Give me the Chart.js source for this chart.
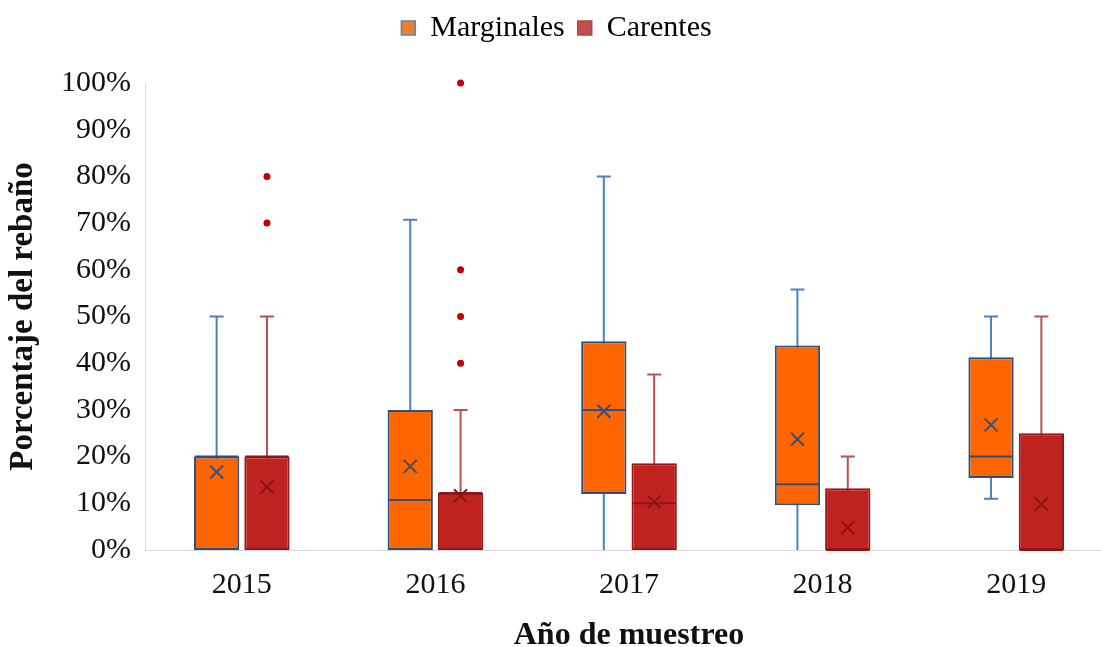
<!DOCTYPE html>
<html>
<head>
<meta charset="utf-8">
<script src="https://cdn.jsdelivr.net/npm/chart.js@4.4.1/dist/chart.umd.min.js"></script>
<style>
  html, body { margin: 0; padding: 0; background: #fff; overflow: hidden; }
  #wrap { width: 1113px; height: 647px; }
</style>
</head>
<body>
<div id="wrap"><canvas id="chart" width="1113" height="647"></canvas></div>
<script>
// Years on the x axis
const years = ['2015', '2016', '2017', '2018', '2019'];

// Marginales (percent of herd)
const margMin = [0, 0, 0, 0, 11];
const margQ1 = [0, 0, 12, 9.6, 15.4];
const margMedian = [20, 10.7, 30, 14.1, 20];
const margQ3 = [20, 30, 44.7, 43.8, 41.3];
const margMax = [50, 70.7, 80, 55.8, 50];
const margMean = [16.7, 17.9, 29.7, 23.7, 26.8];
const margOutliers = [[], [], [], [], []];

// Carentes (percent of herd)
const carMin = [0, 0, 0, 0, 0];
const carQ1 = [0, 0, 0, 0, 0];
const carMedian = [20, 12.2, 10, 0, 0];
const carQ3 = [20, 12.2, 18.6, 13.2, 25];
const carMax = [50, 30, 37.6, 20, 50];
const carMean = [13.5, 11.6, 10.3, 4.8, 9.8];
const carOutliers = [[70, 80], [40, 50, 60, 100], [], [], []];

const yTicks = [0, 10, 20, 30, 40, 50, 60, 70, 80, 90, 100];

const serif = 'Liberation Serif, Times New Roman, serif';

const series = [
    {
        min: margMin, q1: margQ1, median: margMedian, q3: margQ3, max: margMax,
        mean: margMean, outliers: margOutliers,
        whisker: '#4f7fc0', medianColor: '#2e4e7e', meanColor: '#34507a', outlierColor: '#c00000',
    },
    {
        min: carMin, q1: carQ1, median: carMedian, q3: carQ3, max: carMax,
        mean: carMean, outliers: carOutliers,
        whisker: '#b9514f', medianColor: '#8c1515', meanColor: '#8c1414', outlierColor: '#c00000',
    },
];

// extra room under the legend so the plot starts lower
const legendGap = {
    id: 'legendGap',
    beforeInit(chart) {
        const fit = chart.legend.fit;
        chart.legend.fit = function () {
            fit.call(this);
            this.height += 30;
        };
    },
};

// whiskers behind the boxes, medians / means / outliers on top
const boxDetails = {
    id: 'boxDetails',
    beforeDatasetsDraw(chart) {
        const c = chart.ctx;
        const y = chart.scales.y;
        series.forEach((s, d) => {
            chart.getDatasetMeta(d).data.forEach((bar, i) => {
                const yLo = y.getPixelForValue(s.min[i]);
                const yHi = y.getPixelForValue(s.max[i]);
                c.save();
                c.strokeStyle = s.whisker;
                c.lineWidth = 2;
                c.beginPath();
                c.moveTo(bar.x, yLo);
                c.lineTo(bar.x, yHi);
                if (s.max[i] > s.q3[i]) {
                    c.moveTo(bar.x - 7, yHi);
                    c.lineTo(bar.x + 7, yHi);
                }
                if (s.min[i] > 0 && s.min[i] < s.q1[i]) {
                    c.moveTo(bar.x - 7, yLo);
                    c.lineTo(bar.x + 7, yLo);
                }
                c.stroke();
                c.restore();
            });
        });
    },
    afterDatasetsDraw(chart) {
        const c = chart.ctx;
        const y = chart.scales.y;
        series.forEach((s, d) => {
            chart.getDatasetMeta(d).data.forEach((bar, i) => {
                const half = bar.width / 2;
                c.save();
                // median
                const ym = y.getPixelForValue(s.median[i]);
                c.strokeStyle = s.medianColor;
                c.lineWidth = 2;
                c.beginPath();
                c.moveTo(bar.x - half + 1, ym);
                c.lineTo(bar.x + half - 1, ym);
                c.stroke();
                // mean as an X
                const yMean = y.getPixelForValue(s.mean[i]);
                c.strokeStyle = s.meanColor;
                c.beginPath();
                c.moveTo(bar.x - 6.5, yMean - 6.5);
                c.lineTo(bar.x + 6.5, yMean + 6.5);
                c.moveTo(bar.x - 6.5, yMean + 6.5);
                c.lineTo(bar.x + 6.5, yMean - 6.5);
                c.stroke();
                // outliers
                c.fillStyle = s.outlierColor;
                s.outliers[i].forEach(v => {
                    c.beginPath();
                    c.arc(bar.x, y.getPixelForValue(v), 3.5, 0, Math.PI * 2);
                    c.fill();
                });
                c.restore();
            });
        });
    },
};

const ctx = document.getElementById('chart').getContext('2d');

const chart = new Chart(ctx, {
    type: 'bar',
    data: {
        labels: years,
        datasets: [
            {
                label: 'Marginales',
                data: margQ1.map((v, i) => [v, margQ3[i]]),
                backgroundColor: '#ff6600',
                borderColor: '#2e4e7e',
                borderWidth: 2,
                borderSkipped: false,
            },
            {
                label: 'Carentes',
                data: carQ1.map((v, i) => [v, carQ3[i]]),
                backgroundColor: '#bf2320',
                borderColor: '#9a1616',
                borderWidth: 2,
                borderSkipped: false,
            },
        ],
    },
    options: {
        responsive: false,
        animation: false,
        layout: { padding: 0 },
        datasets: {
            bar: { categoryPercentage: 0.52, barPercentage: 0.9 },
        },
        plugins: {
            tooltip: { enabled: false },
            legend: {
                position: 'top',
                labels: {
                    color: '#111',
                    font: { family: serif, size: 30 },
                    boxWidth: 14,
                    boxHeight: 14,
                    padding: 13,
                    generateLabels: () => [
                        { text: 'Marginales', fillStyle: '#ed7d31', strokeStyle: '#5b84c4', lineWidth: 1.5, datasetIndex: 0 },
                        { text: 'Carentes', fillStyle: '#c0504d', strokeStyle: '#b04542', lineWidth: 1.5, datasetIndex: 1 },
                    ],
                },
            },
        },
        scales: {
            x: {
                grid: { display: false, drawTicks: false },
                border: { color: '#d9d9d9', width: 1 },
                ticks: { color: '#111', font: { family: serif, size: 30 }, padding: 17 },
                title: {
                    display: true,
                    text: 'Año de muestreo',
                    color: '#111',
                    font: { family: serif, size: 32, weight: 'bold', lineHeight: 0.7 },
                    padding: { top: 0, bottom: 0 },
                },
                afterFit(scale) { scale.height = 97; },
            },
            y: {
                min: 0,
                max: 100,
                afterBuildTicks(scale) { scale.ticks = yTicks.map(v => ({ value: v })); },
                grid: { display: false, drawTicks: false },
                border: { color: '#d9d9d9', width: 1 },
                ticks: {
                    color: '#111',
                    font: { family: serif, size: 30 },
                    padding: 14,
                    callback: v => v + '%',
                },
                title: {
                    display: true,
                    text: 'Porcentaje del rebaño',
                    color: '#111',
                    font: { family: serif, size: 33, weight: 'bold', lineHeight: 1.2 },
                    padding: { top: 4, bottom: 0 },
                },
                afterFit(scale) { scale.width = 145; },
            },
        },
    },
    plugins: [legendGap, boxDetails],
});
</script>
</body>
</html>
